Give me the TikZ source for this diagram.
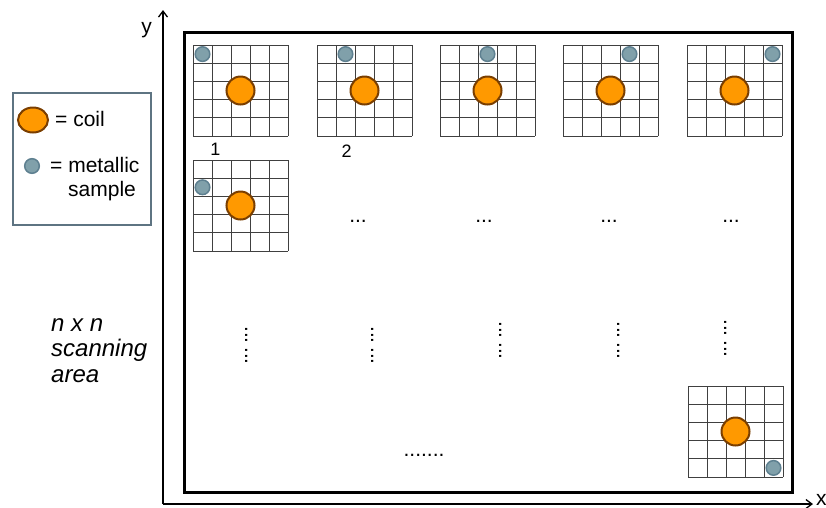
\documentclass[tikz,border=0pt]{standalone}
\usepackage{fontspec}
\setmainfont{Liberation Sans}
\usetikzlibrary{arrows.meta}
\definecolor{coilfill}{HTML}{FF9900}
\definecolor{coilline}{HTML}{7A3E00}
\definecolor{samplefill}{HTML}{80A0AA}
\definecolor{sampleline}{HTML}{5E8090}
\definecolor{gridcol}{HTML}{404040}
\definecolor{legendline}{HTML}{5E7482}
\tikzset{
  gridline/.style={draw=gridcol, line width=0.9pt},
  coilshape/.style={fill=coilfill, draw=coilline, line width=2pt},
  sampleshape/.style={fill=samplefill, draw=sampleline, line width=1.5pt},
  axisline/.style={line width=1.3pt, -{Straight Barb[length=6pt,width=9pt]}},
  lbl/.style={inner sep=0pt, font=\fontsize{21}{24}\selectfont},
  numlbl/.style={inner sep=0pt, font=\fontsize{18}{20}\selectfont},
  arealbl/.style={inner sep=0pt, anchor=base west, font=\fontsize{24}{26}\selectfont\itshape},
  dotlbl/.style={inner sep=0pt, font=\fontsize{21}{24}\selectfont},
}
\newcommand{\scangrid}[4]{%
  \foreach \i in {0,...,5} {
    \draw[gridline] ({#1+19*\i},#2) -- ({#1+19*\i},{#2+91});
    \draw[gridline] (#1,{#2+18.2*\i}) -- ({#1+95},{#2+18.2*\i});
  }
  \draw[coilshape] ({#1+47.5},{#2+45.5}) circle[radius=14pt];
  \draw[sampleshape] ({#1+9.5+19*#3},{#2+9.1+18.2*#4}) circle[radius=7.3pt];
}
\begin{document}
\begin{tikzpicture}[x=1pt,y=-1pt]
\useasboundingbox (0,0) rectangle (826,507);
% axes
\coordinate (origin) at (163,504);
\coordinate (ytip) at (163,10);
\coordinate (xtip) at (813,504);
\draw[axisline] (origin) -- (ytip);
\draw[axisline] (origin) -- (xtip);
\node[lbl, anchor=base] (ylab) at (146.5,33.5) {y};
\node[lbl, anchor=base west] (xlab) at (816,505) {x};
% scanning area frame
\draw[line width=3pt] (184,32) rectangle (792,492);
% grids
\scangrid{193}{45}{0}{0}
\scangrid{317}{45}{1}{0}
\scangrid{440}{45}{2}{0}
\scangrid{563}{45}{3}{0}
\scangrid{687}{45}{4}{0}
\scangrid{193}{160}{0}{1}
\scangrid{688}{386}{4}{4}
\node[numlbl, anchor=base] (n1) at (215.5,155) {1};
\node[numlbl, anchor=base] (n2) at (346.5,157) {2};
% ellipses
\foreach \x/\n in {358/a,484/b,609/c,731/d} {
  \node[dotlbl, anchor=base] (hd\n) at (\x,222) {...};
}
\foreach \x/\y/\n in {249/327/a,375/327/b,503/322/c,621/322/d,728/320/e} {
  \node[dotlbl, rotate=-90, anchor=base west] (vda\n) at ({\x-4},\y-1) {...};
  \node[dotlbl, rotate=-90, anchor=base west] (vdb\n) at ({\x-4},{\y+20}) {...};
}
\node[dotlbl, anchor=base] (bottomdots) at (424,456) {.......};
% legend
\draw[draw=legendline, line width=2pt] (13,93) rectangle (150.5,225);
\draw[coilshape] (33,120) ellipse[x radius=15pt, y radius=12.5pt];
\node[lbl, anchor=west] (coiltxt) at (55,119) {= coil};
\draw[sampleshape] (32,166) circle[radius=7.3pt];
\node[lbl, anchor=west] (metaltxt) at (50,165) {= metallic};
\node[lbl, anchor=west] (sampletxt) at (68,191) {sample};
% area label
\node[arealbl] (area1) at (51,331) {n x n};
\node[arealbl] (area2) at (51,356) {scanning};
\node[arealbl] (area3) at (51,382) {area};
\end{tikzpicture}
\end{document}
